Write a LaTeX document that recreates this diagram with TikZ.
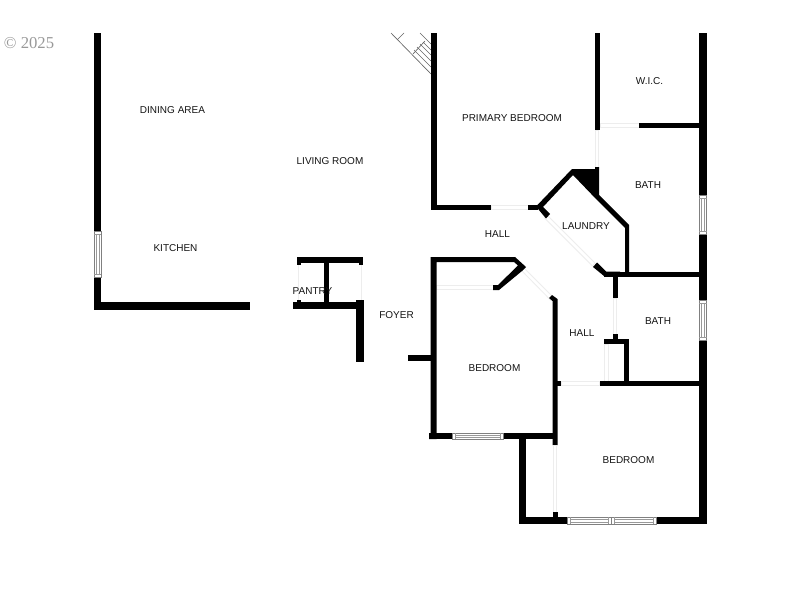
\documentclass[tikz,border=0pt]{standalone}
\usepackage{fontspec}
\setmainfont{Liberation Sans}
\newfontfamily\copyfont{Liberation Serif}
\tikzset{
  wall/.style={fill=black,draw=none},
  roomlabel/.style={font=\fontsize{7.5pt}{9pt}\selectfont,text=black!92,inner sep=0pt},
  door/.style={draw=black!7,fill=white,line width=0.6pt},
  doorline/.style={draw=black!7,line width=0.6pt},
  winframe/.style={draw=black!50,fill=white,line width=0.6pt},
  winline/.style={draw=black!40,line width=0.5pt},
  stair/.style={draw=black!60,line width=0.5pt}
}
\newcommand{\wallrect}[4]{\fill[wall] (#1,#2) rectangle (#3,#4);}
\newcommand{\winH}[4]{% horizontal window x1,y1,x2,y2
  \draw[winframe] (#1,#2) rectangle (#3,#4);
  \draw[winline] ({#1+3},#2) -- ({#1+3},#4);
  \draw[winline] ({#3-3},#2) -- ({#3-3},#4);
  \draw[winline] ({#1+3},{#2+2}) -- ({#3-3},{#2+2});
  \draw[winline] ({#1+3},{#4-2}) -- ({#3-3},{#4-2});}
\newcommand{\winV}[4]{% vertical window
  \draw[winframe] (#1,#2) rectangle (#3,#4);
  \draw[winline] (#1,{#2+3}) -- (#3,{#2+3});
  \draw[winline] (#1,{#4-3}) -- (#3,{#4-3});
  \draw[winline] ({#1+2},{#2+3}) -- ({#1+2},{#4-3});
  \draw[winline] ({#3-2},{#2+3}) -- ({#3-2},{#4-3});}
\begin{document}
\begin{tikzpicture}[x=0.75pt,y=-0.75pt]
\useasboundingbox (0,0) rectangle (800,600);
\fill[white] (0,0) rectangle (800,600);

% copyright
\node[inner sep=0pt,text=black!40,font=\copyfont\fontsize{12.5pt}{14pt}\selectfont] (copy) at (29,43) {© 2025};

% stairs
\draw[stair] (391,33) -- (431,74);
\draw[stair] (420,33) -- (431,44);
\draw[stair] (397,40) -- (404,33);
\draw[stair] (413,54) -- (425,41);
\draw[stair] (417,47) -- (431,61);
\draw[stair] (414,50) -- (431,67);
\draw[stair] (420,44) -- (431,55);
\draw[stair] (423,42) -- (431,50);

% left block
\wallrect{93.5}{33}{101}{231}
\wallrect{93.5}{277}{101}{309.5}
\wallrect{93.5}{302}{250}{309.5}
\winV{94}{231}{101}{277}

% pantry
\draw[doorline] (298,263) -- (298,302);
\draw[doorline] (361,263) -- (361,300);
\wallrect{297}{257}{363}{263}
\wallrect{297}{263}{301}{265}
\wallrect{359}{263}{363}{265}
\wallrect{324}{263}{329}{303}
\wallrect{293}{302}{360}{309}
\wallrect{297}{300}{301}{302}
\wallrect{356}{300}{364}{362}

% foyer stub
\wallrect{408}{355}{432}{361}

% primary bedroom
\wallrect{430.5}{33}{436.5}{209.5}
\wallrect{430.5}{204.5}{491}{209.5}
\draw[door] (491,205) rectangle (528,209);
\wallrect{528}{204.5}{538}{209.5}

% WIC / right wall
\wallrect{594.8}{33}{600}{130}
\draw[door] (600,123.5) rectangle (639,127.5);
\wallrect{639}{123}{699}{128}
\draw[door] (595.5,130) rectangle (598,167);
\wallrect{699}{33}{706.5}{195}
\wallrect{699}{234}{706.5}{300}
\wallrect{699}{340}{706.5}{524}
\winV{699}{195}{706.5}{234}
\winV{699}{300}{706.5}{340}

% laundry
\draw[door] (547,215) -- (595,263) -- (592.5,266) -- (544.5,218) -- cycle;
\fill[wall] (536,206.5) -- (572,169) -- (595,169) -- (595,167) -- (599,167) -- (599,195)
  -- (629,225) -- (629,272) -- (625,272) -- (625,228) -- (597,200) -- (573,175) -- (543,207)
  -- (550,214) -- (546,218.5) -- cycle;
\fill[wall] (597,262.5) -- (606,271.5) -- (620,271.5) -- (620,276) -- (604,276) -- (593,267) -- cycle;

% bath partitions
\wallrect{604}{271.5}{699}{276.5}
\wallrect{613}{276}{617.5}{298}
\draw[door] (613.5,298) rectangle (616.5,335);
\wallrect{613}{334}{617.5}{340}
\wallrect{604}{339}{629}{344}
\wallrect{624}{339}{629}{384}
\draw[door] (604.5,344) rectangle (608.5,381);
\wallrect{599}{381}{699}{386}
\draw[door] (561,381.5) rectangle (599,385.5);
\wallrect{552.5}{381}{561}{386}

% front bedroom
\draw[door] (436.5,285) rectangle (493,289);
\draw[door] (524,268) -- (553,297) -- (550.5,300) -- (521.5,270.5) -- cycle;
\fill[wall] (430.5,257) -- (515,257) -- (526,267) -- (522,271) -- (499,290) -- (493,290)
  -- (493,285) -- (498,285) -- (518,265.5) -- (514,262) -- (436.5,262) -- (436.5,439) -- (429,439)
  -- (429,433) -- (430.5,433) -- cycle;
\fill[wall] (549,298) -- (552,295) -- (557.5,299) -- (557.5,445) -- (552.5,445) -- (552.5,301) -- cycle;
\wallrect{429}{433}{452}{439}
\wallrect{503}{433}{556}{439}
\winH{452}{433}{503}{439}

% rear bedroom
\draw[door] (553.5,445) rectangle (556.5,512);
\wallrect{552.5}{512}{557.5}{518}
\wallrect{519}{433}{526}{524}
\wallrect{519}{517}{567}{524}
\wallrect{656}{517}{706.5}{524}
\winH{567}{517}{611}{524}
\winH{611}{517}{656}{524}

% labels
\node[roomlabel] (dining) at (172.5,110) {DINING AREA};
\node[roomlabel] (living) at (330,161.5) {LIVING ROOM};
\node[roomlabel] (kitchen) at (175.5,248.5) {KITCHEN};
\node[roomlabel] (pantry) at (312.5,291.5) {PANTRY};
\node[roomlabel] (foyer) at (396.5,315.5) {FOYER};
\node[roomlabel] (hallA) at (497.5,234) {HALL};
\node[roomlabel] (laundry) at (586,226.5) {LAUNDRY};
\node[roomlabel] (primary) at (512,118.5) {PRIMARY BEDROOM};
\node[roomlabel] (wic) at (649.5,81.5) {W.I.C.};
\node[roomlabel] (bathA) at (648,185.5) {BATH};
\node[roomlabel] (bathB) at (658,321) {BATH};
\node[roomlabel] (hallB) at (582,333.5) {HALL};
\node[roomlabel] (bedA) at (494.5,368.5) {BEDROOM};
\node[roomlabel] (bedB) at (628.5,460.5) {BEDROOM};
\end{tikzpicture}
\end{document}
